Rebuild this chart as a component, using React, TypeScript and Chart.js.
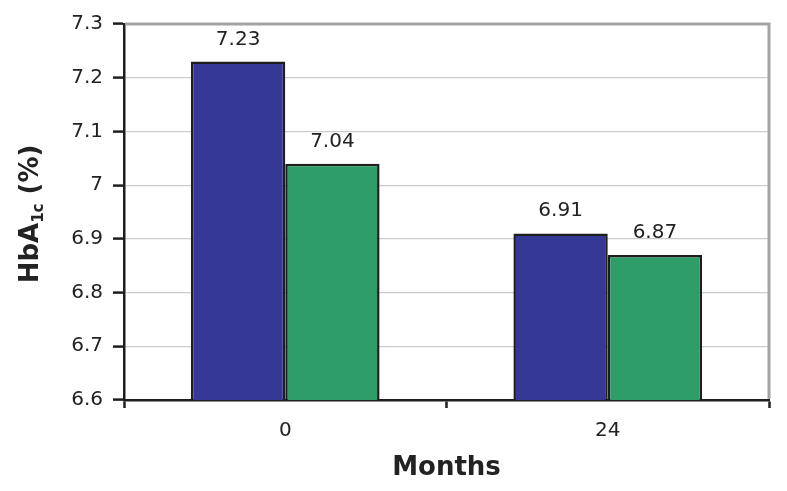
import React, { useEffect, useRef } from "react";
import { Chart, registerables } from "chart.js";

Chart.register(...registerables);

const categories = ["0", "24"];
const seriesA = [7.23, 6.91];
const seriesB = [7.04, 6.87];
const yTicks = ["6.6", "6.7", "6.8", "6.9", "7", "7.1", "7.2", "7.3"];
const xTitle = "Months";
const yTitleMain = "HbA";
const yTitleSub = "1c";
const yTitleTail = " (%)";

const FONT = '"DejaVu Sans", "Liberation Sans", Arial, sans-serif';

const annotatePlugin = {
  id: "annotate",
  afterDraw(chart: any) {
    const ctx = chart.ctx;
    const area = chart.chartArea;
    ctx.save();
    // gray top & right frame
    ctx.strokeStyle = "#a3a3a3";
    ctx.lineWidth = 3;
    ctx.beginPath();
    ctx.moveTo(area.left + 1, area.top);
    ctx.lineTo(area.right, area.top);
    ctx.lineTo(area.right, area.bottom - 1);
    ctx.stroke();

    // data labels
    ctx.fillStyle = "#222";
    ctx.font = `20px ${FONT}`;
    ctx.textAlign = "center";
    ctx.textBaseline = "alphabetic";
    chart.data.datasets.forEach((ds: any, di: number) => {
      const meta = chart.getDatasetMeta(di);
      meta.data.forEach((bar: any, i: number) => {
        ctx.fillText(String(ds.data[i]), bar.x, bar.y - 17);
      });
    });

    // x title
    ctx.font = `bold 26px ${FONT}`;
    ctx.fillText(xTitle, (area.left + area.right) / 2, 475);

    // y title with subscript
    ctx.translate(38, (area.top + area.bottom) / 2 + 2);
    ctx.rotate(-Math.PI / 2);
    ctx.textAlign = "left";
    const big = `bold 26px ${FONT}`;
    const small = `bold 15px ${FONT}`;
    ctx.font = big;
    const w1 = ctx.measureText(yTitleMain).width;
    const w3 = ctx.measureText(yTitleTail).width;
    ctx.font = small;
    const w2 = ctx.measureText(yTitleSub).width;
    const total = w1 + w2 + w3;
    let x = -total / 2;
    ctx.font = big;
    ctx.fillText(yTitleMain, x, 0);
    x += w1;
    ctx.font = small;
    ctx.fillText(yTitleSub, x, 5);
    x += w2;
    ctx.font = big;
    ctx.fillText(yTitleTail, x, 0);
    ctx.restore();
  },
};

export default function App() {
  const ref = useRef<HTMLCanvasElement>(null);
  useEffect(() => {
    document.body.style.margin = "0";
    const chart = new Chart(ref.current!, {
      type: "bar",
      data: {
        labels: categories,
        datasets: [
          {
            data: seriesA,
            backgroundColor: "#363896",
            borderColor: "#1e1e1e",
            borderWidth: 2.5,
            borderSkipped: "bottom",
          },
          {
            data: seriesB,
            backgroundColor: "#2e9d67",
            borderColor: "#1e1e1e",
            borderWidth: 2.5,
            borderSkipped: "bottom",
          },
        ],
      },
      options: {
        responsive: false,
        animation: false,
        devicePixelRatio: 1,
        layout: { padding: { left: 0, top: 24, right: 18, bottom: 0 } },
        plugins: { legend: { display: false }, tooltip: { enabled: false } },
        datasets: { bar: { categoryPercentage: 0.585, barPercentage: 1 } },
        scales: {
          x: {
            offset: true,
            afterFit: (s: any) => {
              s.height = 91;
            },
            grid: {
              offset: true,
              drawOnChartArea: false,
              tickLength: 8,
              tickColor: "#1e1e1e",
              tickWidth: 2.5,
            },
            border: { color: "#1e1e1e", width: 2.5 },
            ticks: {
              color: "#222",
              font: { family: FONT, size: 20 },
              padding: 11,
            },
          },
          y: {
            min: 6.6,
            max: 7.3,
            afterFit: (s: any) => {
              s.width = 124;
            },
            afterBuildTicks: (s: any) => {
              s.ticks = yTicks.map((t) => ({ value: parseFloat(t) }));
            },
            grid: {
              color: "#cccccc",
              lineWidth: 1.2,
              tickLength: 11,
              tickColor: "#1e1e1e",
              tickWidth: 2.5,
            },
            border: { color: "#1e1e1e", width: 2.5 },
            ticks: {
              color: "#222",
              font: { family: FONT, size: 20 },
              padding: 10,
              callback: (v: any) => {
                const idx = yTicks.findIndex((t) => Math.abs(parseFloat(t) - Number(v)) < 1e-6);
                return idx >= 0 ? yTicks[idx] : "";
              },
            },
          },
        },
      },
      plugins: [annotatePlugin],
    });
    return () => chart.destroy();
  }, []);
  return (
    <div style={{ width: 787, height: 491 }}>
      <canvas ref={ref} width={787} height={491} />
    </div>
  );
}
